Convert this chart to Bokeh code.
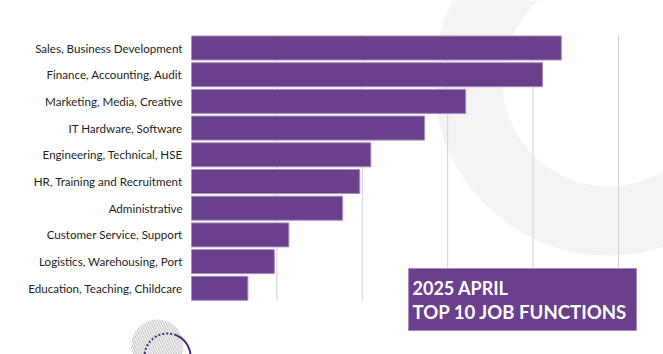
from bokeh.plotting import figure
from bokeh.models import Range1d
from bokeh.embed import file_html
from bokeh.resources import INLINE
from bokeh.core.properties import value

# ---- data ----
categories = [
    "Sales, Business Development",
    "Finance, Accounting, Audit",
    "Marketing, Media, Creative",
    "IT Hardware, Software",
    "Engineering, Technical, HSE",
    "HR, Training and Recruitment",
    "Administrative",
    "Customer Service, Support",
    "Logistics, Warehousing, Port",
    "Education, Teaching, Childcare",
]
values = [433, 411, 321, 273, 210, 197, 177, 114, 97, 66]
grid_ticks = [100, 200, 300, 400, 500]
title_lines = ["2025 APRIL", "TOP 10 JOB FUNCTIONS"]

# ---- layout (pixels) ----
W, H = 663, 354
X0 = 191.0      # pixel where value 0 sits
XS = 0.854      # pixels per value unit
ROW0 = 47.5     # pixel centre of first row
ROWH = 26.7     # row pitch
n = len(categories)
ypos = [n - 1 - i for i in range(n)]


def px(x):
    return (x - X0) / XS


def py(y):
    return (n - 1) - (y - ROW0) / ROWH


PURPLE = "#6a3f8c"
EDGE = "#a88cc0"
FONT = value("Lato")

p = figure(width=W, height=H, output_backend="svg", toolbar_location=None,
           x_range=Range1d(px(0), px(W)), y_range=Range1d(py(H), py(0)),
           x_axis_location=None, y_axis_location=None, min_border=0)
p.outline_line_color = None
p.grid.visible = False
p.background_fill_color = "white"
p.border_fill_color = "white"

# background ring decoration
p.scatter(x=[px(608)], y=[py(80)], size=350, fill_color="#f4f4f4", line_color=None)
p.scatter(x=[px(608)], y=[py(80)], size=212, fill_color="white", line_color=None)

# grid lines
p.segment(x0=grid_ticks, x1=grid_ticks, y0=-0.47, y1=n - 0.5,
          line_color="#d2d2d2", line_width=1)

# bars
p.hbar(y=ypos, left=0, right=values, height=0.9,
       fill_color=PURPLE, line_color=EDGE, line_width=1)

# category labels
p.text(x=[0] * n, y=ypos, text=categories, x_offset=-9,
       text_align="right", text_baseline="middle",
       text_font=FONT, text_font_size="11.6px", text_color="#1e1e1e")

# title box
p.quad(left=px(408), right=px(636), top=py(268), bottom=py(330),
       fill_color=PURPLE, line_color=EDGE, line_width=1)
p.text(x=[px(412)], y=[py(287)], text=[title_lines[0]],
       text_align="left", text_baseline="middle",
       text_font=FONT, text_font_style="bold", text_font_size="18px",
       text_color="white")
p.text(x=[px(412)], y=[py(311)], text=[title_lines[1]],
       text_align="left", text_baseline="middle",
       text_font=FONT, text_font_style="bold", text_font_size="18.6px",
       text_color="white")

# bottom-left decoration
p.scatter(x=[px(157)], y=[py(345)], size=52, fill_color=None, line_color=None,
          hatch_pattern="\\", hatch_color="#cfcfcf", hatch_scale=5, hatch_weight=1.5)
p.arc(x=[px(167)], y=[py(356)], radius=23, radius_units="screen",
      start_angle=1.19, end_angle=3.5, line_color="#4b2a7a",
      line_width=2, line_dash="2 2")
p.arc(x=[px(167)], y=[py(356)], radius=23, radius_units="screen",
      start_angle=-0.6, end_angle=1.19, line_color="#4b2a7a", line_width=2)

open("out.html", "w").write(file_html(p, INLINE))
